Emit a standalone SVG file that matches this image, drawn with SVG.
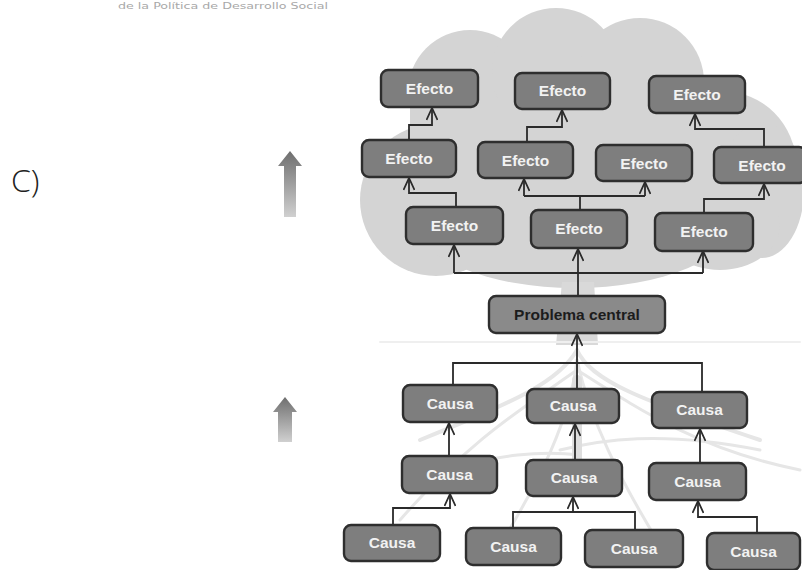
<svg xmlns="http://www.w3.org/2000/svg" width="802" height="570" viewBox="0 0 802 570">
<style>
  .box { fill: #7e7e7e; stroke: #2e2e2e; stroke-width: 2.4; }
  .pc { fill: #8a8a8a; stroke: #2e2e2e; stroke-width: 2.4; }
  .lbl { font-family: "Liberation Sans", Arial, sans-serif; font-weight: bold; font-size: 15.5px; fill: #f2f2f2; text-anchor: middle; }
  .lbld { font-family: "Liberation Sans", Arial, sans-serif; font-weight: bold; font-size: 15.5px; fill: #1c1c1c; text-anchor: middle; }
  .con { fill: none; stroke: #2a2a2a; stroke-width: 1.8; }
  .arr { marker-end: url(#ah); }
  .canopy { fill: #d4d4d4; }
  .root { fill: none; stroke: #e6e6e6; stroke-linecap: round; }
</style>
<defs>
  <marker id="ah" viewBox="0 0 14 12" refX="13" refY="6" markerWidth="14" markerHeight="12" markerUnits="userSpaceOnUse" orient="auto">
    <path d="M1,0.5 L13,6 L1,11.5" fill="none" stroke="#2a2a2a" stroke-width="1.8"/>
  </marker>
  <linearGradient id="ga" x1="0" y1="0" x2="0" y2="1">
    <stop offset="0" stop-color="#6e6e6e"/>
    <stop offset="1" stop-color="#d0d0d0"/>
  </linearGradient>
</defs>
<rect width="802" height="570" fill="#ffffff"/>

<text x="118" y="9" font-family="DejaVu Sans, sans-serif" font-size="9" fill="#a8a8a8" textLength="210" lengthAdjust="spacingAndGlyphs">de la Política de Desarrollo Social</text>
<text x="11" y="192" font-family="Open Sans, DejaVu Sans, sans-serif" font-weight="300" font-size="32" fill="#222">C)</text>

<g id="arrows-left">
  <polygon points="290,151 302,166 296,166 296,217 284,217 284,166 278,166" fill="url(#ga)"/>
  <polygon points="285,397 297,412 292,412 292,442 278,442 278,412 273,412" fill="url(#ga)"/>
</g>

<g id="tree">
  <g class="canopy">
    <circle cx="470" cy="92" r="62"/>
    <circle cx="556" cy="72" r="64"/>
    <circle cx="640" cy="82" r="64"/>
    <circle cx="722" cy="165" r="74"/>
    <ellipse cx="762" cy="190" rx="42" ry="68"/>
    <circle cx="436" cy="200" r="76"/>
    <ellipse cx="575" cy="220" rx="160" ry="68"/>
    <ellipse cx="720" cy="225" rx="60" ry="45"/>
    <rect x="410" y="100" width="320" height="150"/>
  </g>
  <polygon points="562,282 594,282 598,345 556,345" fill="#d9d9d9"/>
  <g class="root">
    <path d="M380,342 H800" stroke-width="2" stroke="#efefef"/>
    <path d="M577,350 C560,380 520,400 420,440" stroke-width="4"/>
    <path d="M577,350 C590,380 640,400 760,440" stroke-width="4"/>
    <path d="M577,360 C570,420 540,480 500,545" stroke-width="3"/>
    <path d="M577,360 C590,420 620,480 660,545" stroke-width="3"/>
    <path d="M577,370 C520,410 470,440 400,520" stroke-width="3"/>
    <path d="M577,370 C640,410 700,450 800,470" stroke-width="3"/>
    <path d="M560,450 C600,440 660,430 760,450" stroke-width="3"/>
    <path d="M440,470 C500,455 540,450 580,455" stroke-width="3"/>
    <path d="M577,380 V460" stroke-width="10" stroke="#dedede"/>
  </g>
</g>

<g id="connectors">
  <path class="con arr" d="M409,140 V125 H432 V108"/>
  <path class="con arr" d="M527,142 V127 H562 V110"/>
  <path class="con arr" d="M764,147 V129 H695 V114"/>
  <path class="con arr" d="M456,207 V193 H409 V178"/>
  <path class="con" d="M580,210 V196 M524,196 H645"/>
  <path class="con arr" d="M524,196 V179"/>
  <path class="con arr" d="M645,196 V182"/>
  <path class="con arr" d="M704,213 V199 H764 V184"/>
  <path class="con arr" d="M578,296 V249"/>
  <path class="con" d="M454,273 H703"/>
  <path class="con arr" d="M454,273 V245"/>
  <path class="con arr" d="M703,273 V251"/>
  <path class="con arr" d="M577,389 V334"/>
  <path class="con" d="M453,385 V363 H702 V392"/>
  <path class="con arr" d="M449,456 V423"/>
  <path class="con arr" d="M575,460 V424"/>
  <path class="con arr" d="M700,463 V429"/>
  <path class="con arr" d="M393,525 V508 H450 V494"/>
  <path class="con" d="M513,528 V512 H635 V530"/>
  <path class="con arr" d="M573,512 V497"/>
  <path class="con arr" d="M757,533 V517 H698 V501"/>
</g>

<g id="efecto1"><rect class="box" x="381" y="70" width="97" height="37" rx="7"/><text class="lbl" x="429.5" y="94">Efecto</text></g>
<g id="efecto2"><rect class="box" x="515" y="73" width="95" height="36" rx="7"/><text class="lbl" x="562.5" y="96">Efecto</text></g>
<g id="efecto3"><rect class="box" x="649" y="76" width="96" height="37" rx="7"/><text class="lbl" x="697" y="100">Efecto</text></g>
<g id="efecto4"><rect class="box" x="362" y="140" width="94" height="37" rx="7"/><text class="lbl" x="409" y="164">Efecto</text></g>
<g id="efecto5"><rect class="box" x="478" y="142" width="95" height="36" rx="7"/><text class="lbl" x="525.5" y="166">Efecto</text></g>
<g id="efecto6"><rect class="box" x="596" y="145" width="96" height="36" rx="7"/><text class="lbl" x="644" y="169">Efecto</text></g>
<g id="efecto7"><rect class="box" x="714" y="147" width="92" height="36" rx="7"/><text class="lbl" x="762" y="171">Efecto</text></g>
<g id="efecto8"><rect class="box" x="406" y="207" width="97" height="37" rx="7"/><text class="lbl" x="454.5" y="231">Efecto</text></g>
<g id="efecto9"><rect class="box" x="531" y="210" width="96" height="38" rx="7"/><text class="lbl" x="579" y="234">Efecto</text></g>
<g id="efecto10"><rect class="box" x="655" y="213" width="98" height="38" rx="7"/><text class="lbl" x="704" y="237">Efecto</text></g>
<g id="problema"><rect class="pc" x="489" y="296" width="176" height="37" rx="7"/><text class="lbld" x="577" y="320">Problema central</text></g>
<g id="causa1"><rect class="box" x="403" y="385" width="94" height="37" rx="7"/><text class="lbl" x="450" y="409">Causa</text></g>
<g id="causa2"><rect class="box" x="527" y="389" width="92" height="34" rx="7"/><text class="lbl" x="573" y="411">Causa</text></g>
<g id="causa3"><rect class="box" x="652" y="392" width="95" height="36" rx="7"/><text class="lbl" x="699.5" y="415">Causa</text></g>
<g id="causa4"><rect class="box" x="402" y="456" width="95" height="37" rx="7"/><text class="lbl" x="449.5" y="480">Causa</text></g>
<g id="causa5"><rect class="box" x="526" y="460" width="96" height="36" rx="7"/><text class="lbl" x="574" y="483">Causa</text></g>
<g id="causa6"><rect class="box" x="649" y="463" width="97" height="37" rx="7"/><text class="lbl" x="697.5" y="487">Causa</text></g>
<g id="causa7"><rect class="box" x="344" y="525" width="96" height="36" rx="7"/><text class="lbl" x="392" y="548">Causa</text></g>
<g id="causa8"><rect class="box" x="466" y="528" width="95" height="37" rx="7"/><text class="lbl" x="513.5" y="552">Causa</text></g>
<g id="causa9"><rect class="box" x="585" y="530" width="98" height="37" rx="7"/><text class="lbl" x="634" y="554">Causa</text></g>
<g id="causa10"><rect class="box" x="707" y="533" width="93" height="37" rx="7"/><text class="lbl" x="753.5" y="557">Causa</text></g>
</svg>
